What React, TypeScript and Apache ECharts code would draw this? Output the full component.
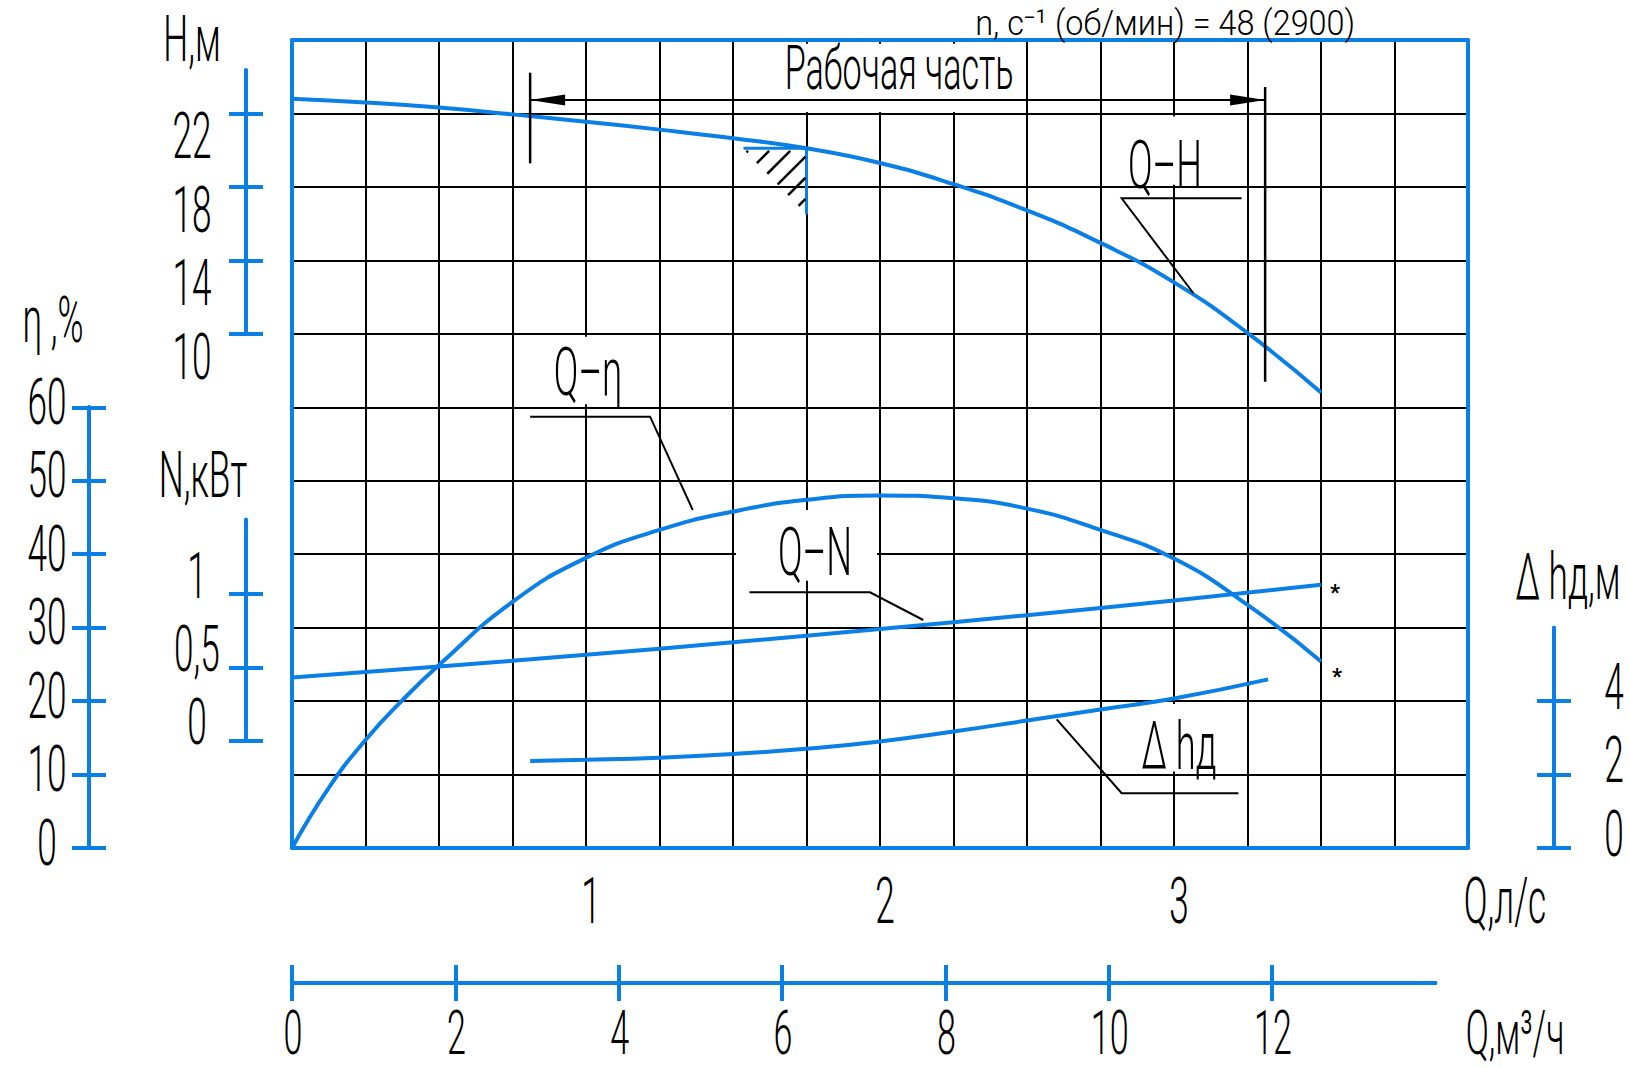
import React, { useEffect, useRef } from "react";
import * as echarts from "echarts";

const BLUE = "#0a7fe6";
const INK = "#000000";
const FONT = "Roboto, 'DejaVu Sans', 'Liberation Sans', sans-serif";
const SX = 0.55; // horizontal squeeze to imitate the narrow drafting font

// ---------- flow axis (l/s) ----------
const Q_MAX = 4;
const Q_STEP = 0.25;
const Q_LABELS = [1, 2, 3];
const ROWS = 11;

// ---------- curves (Q in l/s) ----------
const Q_H = [0, 0.25, 0.5, 0.75, 1, 1.25, 1.5, 1.75, 2, 2.25, 2.5, 2.75, 3, 3.25, 3.5];
const H_M = [22.8, 22.6, 22.32, 21.95, 21.55, 21.12, 20.65, 20.1, 19.3, 18.15, 16.72, 14.95, 12.8, 10.05, 6.8];
const Q_ETA = [0, 0.125, 0.25, 0.375, 0.5, 0.75, 1, 1.25, 1.5, 1.75, 2, 2.25, 2.5, 2.75, 3, 3.25, 3.5];
const ETA_PCT = [0, 8.2, 14.7, 20.1, 24.9, 33.5, 39.5, 43.3, 45.8, 47.4, 48, 47.6, 46.2, 43.3, 39.4, 33.1, 25.4];
const Q_N = [0, 0.5, 1, 1.5, 2, 2.5, 3, 3.5];
const N_KW = [0.43, 0.505, 0.585, 0.67, 0.76, 0.855, 0.955, 1.062];
const Q_DH = [0.81, 1, 1.25, 1.5, 1.75, 2, 2.25, 2.5, 2.75, 3, 3.32];
const DH_M = [2.37, 2.4, 2.46, 2.56, 2.7, 2.9, 3.17, 3.47, 3.77, 4.07, 4.59];

// ---------- value ranges spanning the 11 grid rows ----------
const H_RANGE = [-18, 26];
const ETA_RANGE = [0, 110];
const N_RANGE = [-0.73, 4.77];
const DH_RANGE = [0, 22];

// ---------- scale ticks ----------
const H_TICKS = [10, 14, 18, 22];
const ETA_TICKS = [0, 10, 20, 30, 40, 50, 60];
const N_TICKS = [0, 0.5, 1];
const DH_TICKS = [0, 2, 4];
const QM_TICKS = [0, 2, 4, 6, 8, 10, 12];
const QM_MAX = 14;
const M3H_PER_LS = 3.6;

// working range of the pump (l/s)
const WORK_Q = [0.81, 3.31];
const HATCH_Q = 1.75;

const TITLE_TOP = "n, c⁻¹ (об/мин) = 48 (2900)";

// ---------- layout ----------
const PLOT = { left: 292, top: 40, width: 1176, height: 808 };
const yAt = (v: number, r: number[]) => PLOT.top + ((r[1] - v) / (r[1] - r[0])) * PLOT.height;

const SCALES = [
  { range: H_RANGE, from: 10, to: 24.35, ticks: H_TICKS, x: 246, ldx: -54, ldy: 23, title: "H,м", tdx: -54, tdy: -31 },
  { range: ETA_RANGE, from: 0, to: 60, ticks: ETA_TICKS, x: 89, ldx: -42, ldy: -5, title: "η ,%", tdx: -36, tdy: -87 },
  { range: N_RANGE, from: 0, to: 1.505, ticks: N_TICKS, x: 246, ldx: -49, ldy: -18, title: "N,кВт", tdx: -43, tdy: -44 },
  { range: DH_RANGE, from: 0, to: 6, ticks: DH_TICKS, x: 1554, ldx: 60, ldy: -14, title: "Δ hд,м", tdx: 14, tdy: -50 },
];

// annotations in grid units: [Q (l/s), row (0..11)]
const ANNOTATIONS = [
  { label: "Рабочая часть", at: [2.065, 10.62], box: [[1.54, 10.02], [2.48, 10.95]], size: 62, leader: null as null | number[][] },
  { label: "Q–H", at: [2.969, 9.29], box: [[2.8, 9.03], [3.13, 9.96]], size: 66, leader: [[3.23, 8.845], [2.822, 8.845], [3.066, 7.552]] },
  { label: "Q–η", at: [1.007, 6.47], box: [[0.78, 6.04], [1.22, 6.96]], size: 66, leader: [[0.81, 5.872], [1.218, 5.872], [1.363, 4.602]] },
  { label: "Q–N", at: [1.779, 4.02], box: [[1.51, 3.64], [1.99, 4.6]], size: 66, leader: [[1.556, 3.481], [1.966, 3.481], [2.147, 3.104]] },
  { label: "Δ hд", at: [3.017, 1.38], box: [[2.77, 1.04], [3.23, 1.96]], size: 66, leader: [[2.601, 1.752], [2.822, 0.745], [3.219, 0.745]] },
];
const WORK_ARROW_ROW = 10.183;
const WORK_LEFT_ROWS = [9.321, 10.555];
const WORK_RIGHT_ROWS = [6.348, 10.36];

const fmt = (v: number) => String(v).replace(".", ",");
const blueLine = { show: true, onZero: false, lineStyle: { color: BLUE, width: 4 } };
const blueTick = { color: BLUE, width: 4 };

function buildOption(): any {
  const grids: any[] = [{ left: PLOT.left, top: PLOT.top, width: PLOT.width, height: PLOT.height, show: false }];
  const xAxes: any[] = [
    {
      gridIndex: 0, type: "value", position: "bottom", min: 0, max: Q_MAX, interval: Q_STEP,
      axisLine: blueLine, axisTick: { show: false }, axisLabel: { show: false },
      splitLine: { show: true, showMinLine: false, showMaxLine: false, lineStyle: { color: INK, width: 2 } },
    },
    {
      gridIndex: 0, type: "value", position: "top", min: 0, max: Q_MAX, interval: Q_STEP,
      axisLine: blueLine, axisTick: { show: false }, axisLabel: { show: false }, splitLine: { show: false },
    },
  ];
  const yAxes: any[] = [
    {
      gridIndex: 0, type: "value", position: "left", min: 0, max: ROWS, interval: 1,
      axisLine: blueLine, axisTick: { show: false }, axisLabel: { show: false },
      splitLine: { show: true, showMinLine: false, showMaxLine: false, lineStyle: { color: INK, width: 2 } },
    },
    {
      gridIndex: 0, type: "value", position: "right", min: 0, max: ROWS, interval: 1,
      axisLine: blueLine, axisTick: { show: false }, axisLabel: { show: false }, splitLine: { show: false },
    },
    { gridIndex: 0, type: "value", show: false, min: H_RANGE[0], max: H_RANGE[1] },
    { gridIndex: 0, type: "value", show: false, min: ETA_RANGE[0], max: ETA_RANGE[1] },
    { gridIndex: 0, type: "value", show: false, min: N_RANGE[0], max: N_RANGE[1] },
    { gridIndex: 0, type: "value", show: false, min: DH_RANGE[0], max: DH_RANGE[1] },
  ];

  SCALES.forEach((s, i) => {
    const top = yAt(s.to, s.range);
    const bottom = yAt(s.from, s.range);
    grids.push({ left: s.x, width: 1, top, height: bottom - top, show: false });
    xAxes.push({ gridIndex: i + 1, type: "value", show: false, min: 0, max: 1 });
    [false, true].forEach((inside) =>
      yAxes.push({
        gridIndex: i + 1, type: "value", position: "left", min: s.from, max: s.to,
        axisLine: blueLine,
        axisTick: { show: true, customValues: s.ticks, inside, length: 17, lineStyle: blueTick },
        axisLabel: { show: false, customValues: s.ticks },
        splitLine: { show: false },
      })
    );
  });

  grids.push({ left: PLOT.left, top: 982, height: 1, width: (PLOT.width * QM_MAX) / (Q_MAX * M3H_PER_LS), show: false });
  [false, true].forEach((inside) =>
    xAxes.push({
      gridIndex: 5, type: "value", position: "bottom", min: 0, max: QM_MAX,
      axisLine: blueLine,
      axisTick: { show: true, customValues: QM_TICKS, inside, length: 18, lineStyle: blueTick },
      axisLabel: { show: false, customValues: QM_TICKS },
      splitLine: { show: false },
    })
  );
  yAxes.push({ gridIndex: 5, type: "value", show: false, min: 0, max: 1 });

  const curve = (name: string, qs: number[], vs: number[], yAxisIndex: number) => ({
    name, type: "line", xAxisIndex: 0, yAxisIndex,
    data: qs.map((q, i) => [q, vs[i]]),
    smooth: 0.5, symbol: "none", showSymbol: false, silent: true, z: 4,
    lineStyle: { color: BLUE, width: 4 },
  });

  return {
    animation: false,
    backgroundColor: "#ffffff",
    grid: grids,
    xAxis: xAxes,
    yAxis: yAxes,
    series: [
      curve("Q–H", Q_H, H_M, 2),
      curve("Q–η", Q_ETA, ETA_PCT, 3),
      curve("Q–N", Q_N, N_KW, 4),
      curve("Δhд", Q_DH, DH_M, 5),
    ],
  };
}

function buildGraphics(chart: any): any[] {
  const px = (finder: any, v: any) => chart.convertToPixel(finder, v);
  const G = (q: number, row: number) => px({ xAxisIndex: 0, yAxisIndex: 0 }, [q, row]) as number[];
  const els: any[] = [];
  const T = (x: number, y: number, s: string, size = 64, sx = SX, z = 20) => ({
    type: "text", x, y, scaleX: sx, z, silent: true,
    style: {
      text: s, fill: INK, fontFamily: FONT, fontSize: size, fontWeight: 300,
      align: "center", verticalAlign: "middle", textAlign: "center", textVerticalAlign: "middle",
    },
  });
  const L = (a: number[], b: number[], stroke = INK, lw = 2, z = 6) => ({
    type: "line", z, silent: true,
    shape: { x1: a[0], y1: a[1], x2: b[0], y2: b[1] },
    style: { stroke, lineWidth: lw },
  });

  // scale labels & titles
  SCALES.forEach((s, i) => {
    const yIdx = 6 + 2 * i;
    const ax = (px({ xAxisIndex: 2 + i, yAxisIndex: yIdx }, [0, s.from]) as number[])[0];
    s.ticks.forEach((v) => els.push(T(ax + s.ldx, (px({ yAxisIndex: yIdx }, v) as number) + s.ldy, fmt(v))));
    const topY = px({ yAxisIndex: yIdx }, s.to) as number;
    els.push(T(ax + s.tdx, topY + s.tdy, s.title));
  });

  // Q l/s labels
  const plotBottom = G(0, 0)[1];
  const plotRight = G(Q_MAX, 0)[0];
  const plotTop = G(0, ROWS)[1];
  Q_LABELS.forEach((q) => els.push(T(G(q, 0)[0] + 5, plotBottom + 53, String(q))));
  els.push(T(plotRight + 37, plotBottom + 53, "Q,л/с"));

  // Q m3/h labels
  const m3Y = (px({ xAxisIndex: 6, yAxisIndex: 14 }, [0, 0]) as number[])[1];
  QM_TICKS.forEach((v) => els.push(T((px({ xAxisIndex: 6 }, v) as number) + 1, m3Y + 50, String(v), 62)));
  els.push(T(plotRight + 47, m3Y + 50, "Q,м³/ч", 62));

  // top caption
  els.push(T(G(2.97, ROWS)[0], plotTop - 18, TITLE_TOP, 36, 0.9));

  // annotation boxes, labels, leaders
  ANNOTATIONS.forEach((a) => {
    const p1 = G(a.box[0][0], a.box[0][1]);
    const p2 = G(a.box[1][0], a.box[1][1]);
    els.push({
      type: "rect", z: 1, silent: true,
      shape: { x: Math.min(p1[0], p2[0]), y: Math.min(p1[1], p2[1]), width: Math.abs(p2[0] - p1[0]), height: Math.abs(p2[1] - p1[1]) },
      style: { fill: "#ffffff" },
    });
    const c = G(a.at[0], a.at[1]);
    els.push(T(c[0], c[1], a.label, a.size));
    if (a.leader) {
      els.push({
        type: "polyline", z: 6, silent: true,
        shape: { points: a.leader.map((p) => G(p[0], p[1])) },
        style: { stroke: INK, lineWidth: 2, fill: null },
      });
    }
  });

  // working range dimension line
  const yA = G(0, WORK_ARROW_ROW)[1];
  const xl = G(WORK_Q[0], 0)[0];
  const xr = G(WORK_Q[1], 0)[0];
  els.push(L([xl, yA], [xr, yA], INK, 2));
  els.push({ type: "polygon", z: 6, silent: true, shape: { points: [[xl, yA], [xl + 35, yA - 5.5], [xl + 35, yA + 5.5]] }, style: { fill: INK } });
  els.push({ type: "polygon", z: 6, silent: true, shape: { points: [[xr, yA], [xr - 35, yA - 5.5], [xr - 35, yA + 5.5]] }, style: { fill: INK } });
  els.push(L(G(WORK_Q[0], WORK_LEFT_ROWS[0]), G(WORK_Q[0], WORK_LEFT_ROWS[1]), INK, 2.5));
  els.push(L(G(WORK_Q[1], WORK_RIGHT_ROWS[0]), G(WORK_Q[1], WORK_RIGHT_ROWS[1]), INK, 2.5));

  // hatched minimum-flow mark on the Q–H curve
  const hi = Q_H.indexOf(HATCH_Q);
  const A = px({ xAxisIndex: 0, yAxisIndex: 2 }, [Q_H[hi], H_M[hi]]) as number[];
  els.push(L([A[0] - 63, A[1]], A, BLUE, 3, 7));
  els.push(L(A, [A[0], A[1] + 66], BLUE, 3, 7));
  for (let i = 0; i < 6; i++) {
    const sx = A[0] - 60 + 10.4 * i;
    const sy = A[1] + 4 + 10.7 * i;
    const t = Math.min(sy - (A[1] + 2.5), A[0] - 1 - sx);
    els.push(L([sx, sy], [sx + t, sy - t], INK, 2.5, 7));
  }

  // asterisks at the ends of Q–N and Q–η
  const nEnd = px({ xAxisIndex: 0, yAxisIndex: 4 }, [Q_N[Q_N.length - 1], N_KW[N_KW.length - 1]]) as number[];
  const eEnd = px({ xAxisIndex: 0, yAxisIndex: 3 }, [Q_ETA[Q_ETA.length - 1], ETA_PCT[ETA_PCT.length - 1]]) as number[];
  const star = (x: number, y: number) => ({
    type: "text", x, y, z: 20, silent: true,
    style: { text: "*", fill: INK, fontFamily: FONT, fontSize: 22, fontWeight: 700, align: "center", verticalAlign: "middle", textAlign: "center", textVerticalAlign: "middle" },
  });
  els.push(star(nEnd[0] + 14, nEnd[1] + 8));
  els.push(star(eEnd[0] + 16, eEnd[1] + 15));

  return els;
}

export default function App() {
  const ref = useRef<HTMLDivElement>(null);
  useEffect(() => {
    const chart = echarts.init(ref.current!, null, { renderer: "svg", width: 1630, height: 1068 });
    chart.setOption(buildOption());
    chart.setOption({ graphic: buildGraphics(chart) });
    return () => chart.dispose();
  }, []);
  return (
    <div
      ref={ref}
      style={{ position: "fixed", left: 0, top: 0, width: 1630, height: 1068, background: "#ffffff" }}
    />
  );
}
